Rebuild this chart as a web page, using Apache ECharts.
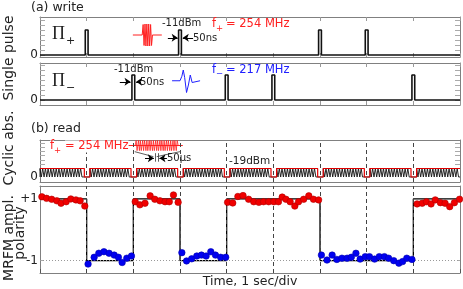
<!DOCTYPE html>
<html><head><meta charset="utf-8">
<script src="https://cdn.jsdelivr.net/npm/echarts@6/dist/echarts.min.js"></script>
<style>html,body{margin:0;padding:0;background:#fff}#c{width:463px;height:289px}</style>
</head><body><div id="c"></div>
<script>
// ---------------- data ----------------
const xMin = 0, xMax = 9;                 // time, 1 sec/div
const cycleBoundaries = [1, 2, 3, 4, 5, 6, 7, 8];
const piPlusTimes  = [1, 3, 6, 7];        // write pulses f+
const piMinusTimes = [2, 4, 5, 8];        // write pulses f-
const pulseLevel = 1;
const combLevel = 1;
const polarityTimes  = [0, 1, 2, 3, 4, 6, 8, 9];
const polarityStates = [1, -1, 1, -1, 1, -1, 1];

const redTimes = [0.04,0.14,0.25,0.36,0.45,0.56,0.66,0.77,0.86,0.96,
  2.04,2.14,2.25,2.36,2.46,2.57,2.68,2.77,2.86,2.96,
  4.02,4.13,4.24,4.35,4.47,4.58,4.69,4.79,4.90,5.01,5.11,5.19,5.27,5.36,5.46,5.54,5.65,5.76,5.86,5.97,
  8.08,8.19,8.28,8.38,8.47,8.58,8.68,8.78,8.88,8.99];
const redValues = [1.07,1.02,0.99,0.94,0.86,0.91,1.00,0.97,0.94,0.77,
  0.91,0.81,0.86,1.10,0.99,0.94,0.91,0.91,1.13,0.89,
  0.89,0.87,1.08,1.11,0.99,0.91,0.89,0.91,0.91,0.91,0.91,1.06,0.99,0.91,0.77,0.91,0.99,1.10,0.99,0.97,
  0.84,0.86,0.91,0.84,0.97,0.88,0.86,0.75,0.88,0.99];
const blueTimes = [1.03,1.16,1.26,1.37,1.48,1.59,1.68,1.76,1.86,1.96,
  3.04,3.14,3.25,3.36,3.46,3.56,3.66,3.76,3.87,3.98,
  6.03,6.15,6.26,6.36,6.47,6.58,6.67,6.77,6.86,6.97,7.06,7.17,7.27,7.38,7.47,7.58,7.69,7.77,7.86,7.97];
const blueValues = [-1.11,-0.89,-0.76,-0.71,-0.76,-0.82,-0.89,-1.06,-0.92,-0.85,
  -0.74,-1.01,-0.94,-0.85,-0.82,-0.85,-0.71,-0.82,-0.89,-0.89,
  -0.82,-0.98,-0.82,-0.96,-0.92,-0.92,-0.89,-0.76,-0.95,-0.87,-0.87,-0.95,-0.87,-0.87,-0.92,-1.00,-1.08,-1.03,-0.92,-0.96];

// schematic insets (data coordinates of their panels)
const writePlusWaveT = [1.99,2.19,2.21,2.23,2.25,2.27,2.29,2.31,2.33,2.35,2.37,2.39,2.41,2.61];
const writePlusWaveY = [0.8,0.8,1.22,0.38,1.24,0.36,1.24,0.36,1.24,0.36,1.22,0.38,0.8,0.8];
const writeMinusWaveT = [2.83,3.00,3.04,3.07,3.10,3.14,3.18,3.22,3.26,3.30,3.43];
const writeMinusWaveY = [0.77,0.77,0.95,1.20,0.90,0.30,0.60,1.00,0.70,0.77,0.77];
const readBurstT = [2.04,2.06,2.08,2.11,2.13,2.15,2.17,2.20,2.22,2.24,2.27,2.29,2.31,2.34,2.36,2.38,2.41,2.43,2.45,2.48,2.50,
  2.52,2.54,2.57,2.59,2.61,2.64,2.66,2.68,2.71,2.73,2.75,2.78,2.80,2.82,2.85,2.87,2.89,2.92,2.94,2.96];
const readBurstY = [3.7,4.3,3.1,4.3,3.1,4.3,3.1,4.3,3.1,4.3,3.1,4.3,3.1,4.3,3.1,4.3,3.1,4.3,3.1,4.3,3.1,
  4.3,3.1,4.3,3.1,4.3,3.1,4.3,3.1,4.3,3.1,4.3,3.1,4.3,3.1,4.3,3.1,4.3,3.1,4.3,3.7];
const readLeadT = [1.89, 3.06];
const readLeadY = [3.7, 3.7];

const zeroLabel = [0];
const polarityLabels = [1, -1];

// ---------------- style constants ----------------
const PULSE_HALF = 0.03, GAP_BEFORE = 0.05, GAP_AFTER = 0.07, COMB_PERIOD = 0.058;
const FONT = "'DejaVu Sans', sans-serif";
const BORDER = '#808080', TXT = '#222';

// ---------------- build series data ----------------
const zip = (a, b) => a.map((v, i) => [v, b[i]]);
function pulseTrain(times) {
  const d = [[xMin, 0]];
  times.forEach(t => d.push([t - PULSE_HALF, 0], [t - PULSE_HALF, pulseLevel], [t + PULSE_HALF, pulseLevel], [t + PULSE_HALF, 0]));
  d.push([xMax, 0]);
  return d;
}
const segs = []; let st = xMin;
cycleBoundaries.forEach(b => { segs.push([st, b - GAP_BEFORE]); st = b + GAP_AFTER; });
segs.push([st, xMax]);
const comb = [[xMin, 0]];
segs.forEach(([a, b]) => {
  for (let t = a; t + COMB_PERIOD / 2 <= b; t += COMB_PERIOD)
    comb.push([t, 0], [t, combLevel], [t + COMB_PERIOD / 2, combLevel], [t + COMB_PERIOD / 2, 0]);
});
comb.push([xMax, 0]);
const envelope = [];
segs.forEach(([a, b], i) => {
  if (i > 0) envelope.push([a, 0]);
  envelope.push([a, combLevel], [b, combLevel]);
  if (i < segs.length - 1) envelope.push([b, 0]);
});
const step = [];
polarityStates.forEach((s, i) => step.push([polarityTimes[i], s], [polarityTimes[i + 1], s]));

// ---------------- layout ----------------
const grids = [
  { left: 40, width: 420, top: 17, height: 40 },
  { left: 40, width: 420, top: 63, height: 42 },
  { left: 40, width: 420, top: 140, height: 42 },
  { left: 40, width: 420, top: 186, height: 87 }
];
const yRanges = [[-0.08, 1.52], [-0.2, 1.48], [-0.59, 4.35], [-1.40, 1.42]];
const yTickVals = [[0, 0.2, 0.4, 0.6, 0.8, 1.0, 1.2, 1.4], [0, 0.2, 0.4, 0.6, 0.8, 1.0, 1.2, 1.4], [1.5, 2, 2.5, 3, 3.5, 4], [1, -1]];
const xTickShow = [[true, true], [true, true], [false, false], [true, false]];

const xAxis = [], yAxis = [];
grids.forEach((g, gi) => {
  ['bottom', 'top'].forEach((pos, k) => xAxis.push({
    type: 'value', gridIndex: gi, position: pos, min: xMin, max: xMax, interval: 1,
    axisLine: { show: true, onZero: false, lineStyle: { color: BORDER, width: 1 } },
    axisTick: { show: xTickShow[gi][k], inside: true, length: 4, lineStyle: { color: gi === 3 ? '#555' : '#999' } },
    axisLabel: { show: false }, splitLine: { show: false }
  }));
  ['left', 'right'].forEach((pos, k) => {
    const lab = k === 0 ? (gi === 3 ? polarityLabels : zeroLabel) : null;
    yAxis.push({
      type: 'value', gridIndex: gi, position: pos, min: yRanges[gi][0], max: yRanges[gi][1],
      axisLine: { show: true, onZero: false, lineStyle: { color: BORDER, width: 1 } },
      axisTick: { show: true, inside: true, length: gi === 3 ? 3 : 5, customValues: yTickVals[gi], lineStyle: { color: '#aaa' } },
      axisLabel: lab ? { show: true, customValues: lab, margin: 2, color: TXT, fontFamily: FONT, fontSize: 12,
        formatter: v => (v > 0 ? '+' + v : v < 0 ? '-' + Math.abs(v) : '0') } : { show: false },
      splitLine: { show: false }
    });
  });
});
const ax = gi => ({ xAxisIndex: 2 * gi, yAxisIndex: 2 * gi });
const arrowML = (lines) => ({
  silent: true, symbol: ['none', 'arrow'], symbolSize: 6, label: { show: false },
  lineStyle: { color: '#000', width: 1, type: 'solid' }, animation: false,
  data: lines.map(([a, b]) => [{ coord: a }, { coord: b }])
});
const plainLine = (color, width) => ({ type: 'line', showSymbol: false, symbol: 'none', silent: true, lineStyle: { color, width } });

const series = [
  Object.assign(plainLine('#111', 1.6), ax(0), { data: pulseTrain(piPlusTimes), z: 3,
    markLine: arrowML([[[2.74, 0.69], [2.95, 0.69]], [[3.28, 0.69], [3.06, 0.69]]]) }),
  Object.assign(plainLine('#ff2020', 1), ax(0), { data: zip(writePlusWaveT, writePlusWaveY) }),
  Object.assign(plainLine('#111', 1.6), ax(1), { data: pulseTrain(piMinusTimes), z: 3,
    markLine: arrowML([[[1.71, 0.73], [1.94, 0.73]], [[2.16, 0.73], [2.06, 0.73]]]) }),
  Object.assign(plainLine('#2020ff', 1), ax(1), { data: zip(writeMinusWaveT, writeMinusWaveY) }),
  Object.assign(plainLine('#111', 0.9), ax(2), { data: comb }),
  Object.assign(plainLine('#e00000', 1.2), ax(2), { data: envelope, z: 4,
    markLine: { silent: true, symbol: 'none', label: { show: false }, animation: false,
      lineStyle: { color: '#444', width: 1, type: [4, 3] }, data: cycleBoundaries.map(b => ({ xAxis: b })) } }),
  Object.assign(plainLine('#ff2020', 0.8), ax(2), { data: zip(readBurstT, readBurstY),
    markLine: { silent: true, symbol: 'none', label: { show: false }, animation: false,
      lineStyle: { color: '#333', width: 0.8, type: 'solid' },
      data: [[{ coord: [2.03, 2.98] }, { coord: [2.43, 2.39] }], [{ coord: [3.0, 2.98] }, { coord: [2.5, 2.39] }],
             [{ coord: [2.465, 2.8] }, { coord: [2.465, 1.8] }], [{ coord: [2.54, 2.8] }, { coord: [2.54, 1.8] }]] } }),
  Object.assign(plainLine('#ff2020', 1), ax(2), { data: zip(readLeadT, readLeadY),
    markLine: arrowML([[[2.25, 2.2], [2.44, 2.2]], [[2.72, 2.2], [2.56, 2.2]]]) }),
  Object.assign(plainLine('#000', 1.3), ax(3), { data: step, z: 2,
    markLine: { silent: true, symbol: 'none', label: { show: false }, animation: false,
      data: cycleBoundaries.map(b => ({ xAxis: b, lineStyle: { color: '#444', width: 1, type: [4, 3] } }))
        .concat([{ yAxis: -1, lineStyle: { color: '#999', width: 1, type: [1, 2] } }]) } }),
  Object.assign({ type: 'scatter', silent: true, symbolSize: 6.5, z: 5,
    itemStyle: { color: '#f00000', borderColor: '#b00000', borderWidth: 0.6, opacity: 1 } }, ax(3), { data: zip(redTimes, redValues) }),
  Object.assign({ type: 'scatter', silent: true, symbolSize: 6.5, z: 5,
    itemStyle: { color: '#0000f0', borderColor: '#0000b0', borderWidth: 0.6, opacity: 1 } }, ax(3), { data: zip(blueTimes, blueValues) })
];

const T = (text, x, y, o = {}) => ({ type: 'text', x, y, rotation: o.rot || 0, silent: true, z: 10,
  style: { text, font: (o.size || 12) + 'px ' + (o.family || FONT), fill: o.color || TXT,
    align: o.align || 'left', verticalAlign: 'middle', backgroundColor: o.bg } });
const graphic = [
  T('(a) write', 31, 8, { size: 12.5 }),
  T('(b) read', 31, 129, { size: 12.5 }),
  T('Single pulse', 9, 58, { size: 14, rot: Math.PI / 2, align: 'center' }),
  T('Cyclic abs.', 9, 148, { size: 14, rot: Math.PI / 2, align: 'center' }),
  T('MRFM ampl.', 9, 238, { size: 14, rot: Math.PI / 2, align: 'center' }),
  T('polarity', 20, 233, { size: 14, rot: Math.PI / 2, align: 'center' }),
  T('Time, 1 sec/div', 250, 282, { size: 12.5, align: 'center' }),
  T('Π', 52, 34, { size: 18, family: "'Liberation Serif', serif" }),
  T('+', 66, 41, { size: 11 }),
  T('Π', 52, 81, { size: 18, family: "'Liberation Serif', serif" }),
  T('−', 66, 88, { size: 11 }),
  T('-11dBm', 162, 23, { size: 10 }),
  T('50ns', 193, 38, { size: 10 }),
  T('-11dBm', 114, 69, { size: 10 }),
  T('50ns', 140, 82, { size: 10 }),
  T('f', 212, 24, { size: 11.5, color: '#ff2020' }),
  T('+', 216, 29, { size: 8.5, color: '#ff2020' }),
  T('= 254 MHz', 226, 24, { size: 11.5, color: '#ff2020' }),
  T('f', 212, 70, { size: 11.5, color: '#2020ff' }),
  T('−', 216, 74, { size: 8.5, color: '#2020ff' }),
  T('= 217 MHz', 226, 70, { size: 11.5, color: '#2020ff' }),
  T('f', 50, 146.5, { size: 11.5, color: '#ff2020', bg: '#fff' }),
  T('+', 54, 151, { size: 8.5, color: '#ff2020' }),
  T('= 254 MHz', 65, 146.5, { size: 11.5, color: '#ff2020', bg: '#fff' }),
  T('50µs', 167, 158, { size: 10 }),
  T('-19dBm', 229, 161, { size: 10.5, bg: '#fff' })
];

const chart = echarts.init(document.getElementById('c'), null, { renderer: 'canvas' });
chart.setOption({ animation: false, backgroundColor: '#fff', grid: grids, xAxis, yAxis, series, graphic });
</script></body></html>
